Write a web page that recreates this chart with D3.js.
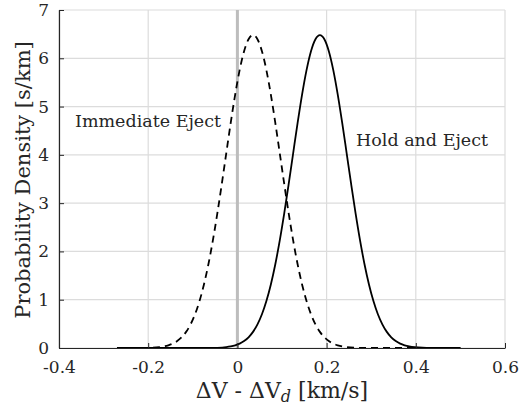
<!DOCTYPE html>
<html>
<head>
<meta charset="utf-8">
<script src="https://cdn.jsdelivr.net/npm/d3@7"></script>
<style>
  html, body { margin: 0; padding: 0; background: #fff; }
</style>
</head>
<body>
<svg id="chart" width="519" height="414"></svg>
<script>
// Axis ticks
const xTicks = [-0.4, -0.2, 0, 0.2, 0.4, 0.6];
const xTickLabels = ["-0.4", "-0.2", "0", "0.2", "0.4", "0.6"];
const yTicks = [0, 1, 2, 3, 4, 5, 6, 7];
const yTickLabels = ["0", "1", "2", "3", "4", "5", "6", "7"];

// Immediate Eject: probability density of ΔV - ΔV_d
const immediateX = [-0.27, -0.22, -0.195, -0.175, -0.165, -0.155, -0.145, -0.135, -0.125, -0.115,
  -0.105, -0.095, -0.085, -0.075, -0.065, -0.055, -0.045, -0.035, -0.025, -0.015,
  -0.005, 0.005, 0.015, 0.025, 0.035, 0.045, 0.055, 0.065, 0.075, 0.085,
  0.095, 0.105, 0.115, 0.125, 0.135, 0.145, 0.155, 0.165, 0.175, 0.185,
  0.195, 0.205, 0.215, 0.225, 0.235, 0.265, 0.285, 0.35, 0.5];
const immediateY = [0, 0.001, 0.004, 0.018, 0.033, 0.056, 0.091, 0.144, 0.222, 0.334,
  0.490, 0.699, 0.972, 1.316, 1.735, 2.229, 2.788, 3.398, 4.032, 4.661,
  5.248, 5.755, 6.147, 6.395, 6.48, 6.395, 6.147, 5.755, 5.248, 4.661,
  4.032, 3.398, 2.788, 2.229, 1.735, 1.316, 0.972, 0.699, 0.490, 0.334,
  0.222, 0.144, 0.091, 0.056, 0.033, 0.006, 0.002, 0, 0];

// Hold and Eject: probability density of ΔV - ΔV_d
const holdX = [-0.27, -0.1, -0.065, -0.045, -0.025, -0.015, -0.005, 0.005, 0.015, 0.025,
  0.035, 0.045, 0.055, 0.065, 0.075, 0.085, 0.095, 0.105, 0.115, 0.125,
  0.135, 0.145, 0.155, 0.165, 0.175, 0.185, 0.195, 0.205, 0.215, 0.225,
  0.235, 0.245, 0.255, 0.265, 0.275, 0.285, 0.295, 0.305, 0.315, 0.325,
  0.335, 0.345, 0.355, 0.365, 0.375, 0.385, 0.415, 0.435, 0.5];
const holdY = [0, 0, 0.001, 0.004, 0.018, 0.033, 0.056, 0.091, 0.144, 0.222,
  0.334, 0.490, 0.699, 0.972, 1.316, 1.735, 2.229, 2.788, 3.398, 4.032,
  4.661, 5.248, 5.755, 6.147, 6.395, 6.48, 6.395, 6.147, 5.755, 5.248,
  4.661, 4.032, 3.398, 2.788, 2.229, 1.735, 1.316, 0.972, 0.699, 0.490,
  0.334, 0.222, 0.144, 0.091, 0.056, 0.033, 0.006, 0.002, 0];

const FONT = "'DejaVu Serif', 'Liberation Serif', 'Times New Roman', serif";
const INK = "#262626";

const svg = d3.select("#chart");
const margin = { left: 59, right: 14, top: 10, bottom: 66 };
const W = 519, H = 414;

const x = d3.scaleLinear().domain([-0.4, 0.6]).range([margin.left, W - margin.right]);
const y = d3.scaleLinear().domain([0, 7]).range([H - margin.bottom, margin.top]);

// Grid
const grid = svg.append("g");
grid.selectAll("line.gx").data(xTicks).join("line")
  .attr("x1", d => x(d)).attr("x2", d => x(d))
  .attr("y1", y(0)).attr("y2", y(7))
  .attr("stroke", "#dcdcdc").attr("stroke-width", 1.2);
grid.selectAll("line.gy").data(yTicks).join("line")
  .attr("x1", x(-0.4)).attr("x2", x(0.6))
  .attr("y1", d => y(d)).attr("y2", d => y(d))
  .attr("stroke", "#dcdcdc").attr("stroke-width", 1.2);

// Reference line at zero
svg.append("line")
  .attr("x1", x(0)).attr("x2", x(0))
  .attr("y1", y(0)).attr("y2", y(7))
  .attr("stroke", "#bdbdbd").attr("stroke-width", 3);

// Density curves
const line = d3.line().x(d => x(d[0])).y(d => y(d[1])).curve(d3.curveMonotoneX);
svg.append("path")
  .datum(immediateX.map((v, i) => [v, immediateY[i]]))
  .attr("d", line).attr("fill", "none")
  .attr("stroke", "#000").attr("stroke-width", 1.8)
  .attr("stroke-dasharray", "7,5");
svg.append("path")
  .datum(holdX.map((v, i) => [v, holdY[i]]))
  .attr("d", line).attr("fill", "none")
  .attr("stroke", "#000").attr("stroke-width", 1.8);

// Axes
const xAxis = d3.axisBottom(x).tickValues(xTicks)
  .tickFormat((d, i) => xTickLabels[i]).tickSizeInner(-5).tickSizeOuter(0).tickPadding(13);
const yAxis = d3.axisLeft(y).tickValues(yTicks)
  .tickFormat((d, i) => yTickLabels[i]).tickSizeInner(-5).tickSizeOuter(0).tickPadding(10);

const gx = svg.append("g").attr("transform", `translate(0,${y(0)})`).call(xAxis);
const gy = svg.append("g").attr("transform", `translate(${x(-0.4)},0)`).call(yAxis);
[gx, gy].forEach(g => {
  g.attr("font-family", FONT);
  g.select(".domain").attr("stroke", INK).attr("stroke-width", 1.2);
  g.selectAll(".tick line").attr("stroke", INK).attr("stroke-width", 1);
  g.selectAll(".tick text").attr("font-size", 17).attr("fill", INK)
    .attr("font-family", FONT);
});
gx.selectAll(".tick text").attr("dy", "0.71em");

// Axis titles
const xt = svg.append("text")
  .attr("x", (x(-0.4) + x(0.6)) / 2).attr("y", 398)
  .attr("text-anchor", "middle").attr("font-size", 22)
  .attr("font-family", FONT).attr("fill", INK);
xt.append("tspan").text("ΔV - ΔV");
xt.append("tspan").attr("font-style", "italic").attr("font-size", 16).attr("dy", 4).text("d");
xt.append("tspan").attr("dy", -4).text(" [km/s]");

svg.append("text")
  .attr("transform", "translate(30,180) rotate(-90)")
  .attr("text-anchor", "middle").attr("font-size", 21)
  .attr("font-family", FONT).attr("fill", INK)
  .text("Probability Density [s/km]");

// Curve annotations
svg.append("text").attr("x", 75).attr("y", 127).attr("font-size", 17.5)
  .attr("font-family", FONT).attr("fill", INK).text("Immediate Eject");
svg.append("text").attr("x", 356).attr("y", 146).attr("font-size", 17.5)
  .attr("font-family", FONT).attr("fill", INK).text("Hold and Eject");
</script>
</body>
</html>
